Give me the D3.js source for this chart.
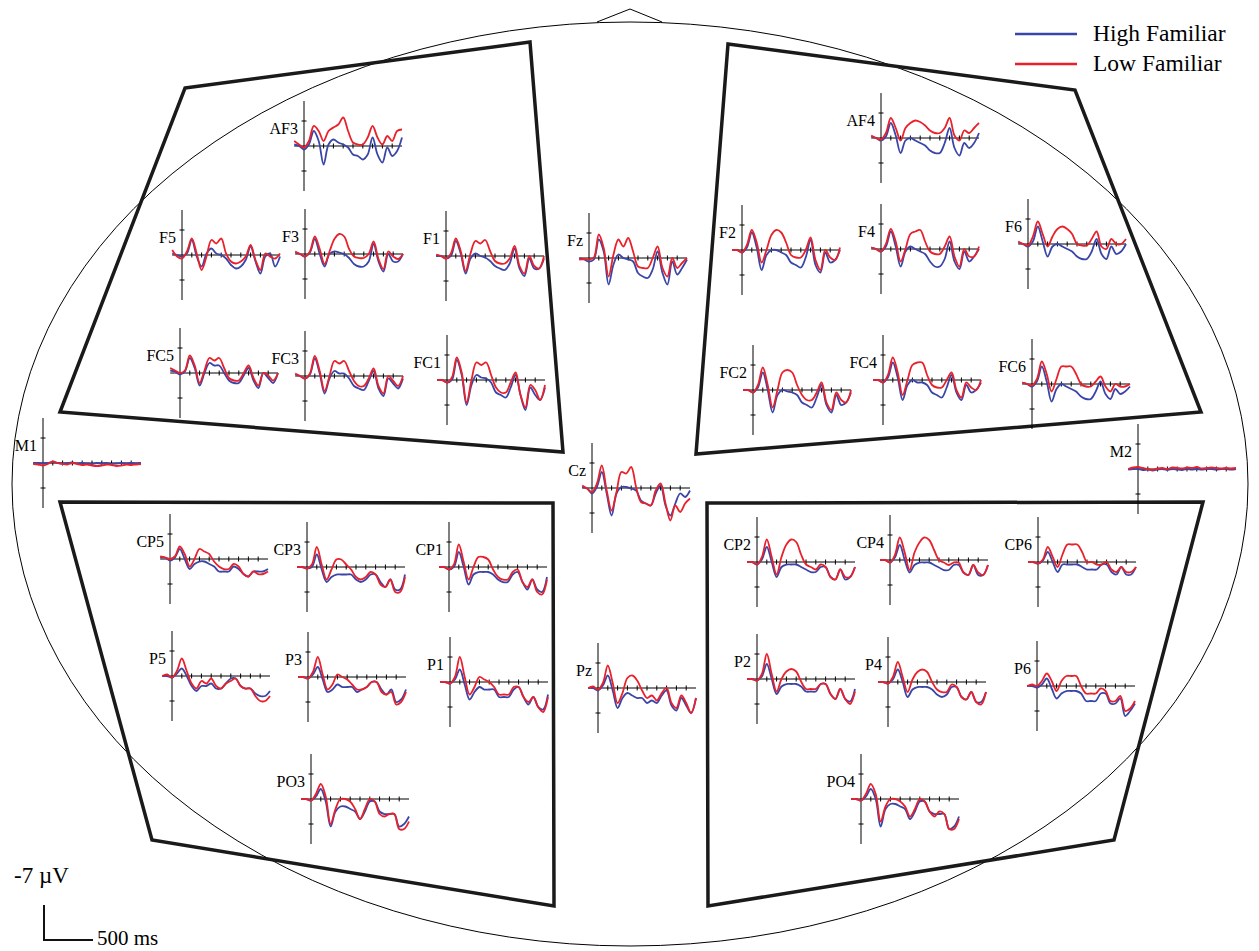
<!DOCTYPE html>
<html><head><meta charset="utf-8">
<script src="https://cdn.jsdelivr.net/npm/d3@7"></script>
<style>body{margin:0;background:#fff}svg{display:block}</style>
</head><body><svg id="c" width="1259" height="951"></svg>
<script>
// time points (ms)
const times = [-100,-50,0,50,100,150,200,250,300,350,400,450,500,550,600,650,700,750,800,850,900,950,1000];
const timeTicks = [100,200,300,400,500,600,700,800,900];
const ampTicks = [-5,5];
const conditions = ["High Familiar","Low Familiar"];

// amplitudes in µV (negative plotted up)
const AF3_H=[-0.3,0,0.7,-0.3,-3,-1,3.7,-0.3,-1.3,-0.7,-0.3,0.3,1.7,2,2.7,1.7,-1.7,1.7,3.3,0.3,2,1,-1.7];
const AF3_L=[-1,-0.3,0.3,-1,-4,-3,-1,-3,-3.7,-4.3,-5.7,-3,-0.7,-0.3,-0.3,-1.7,-4,-1.7,-0.3,-2,-1,-3,-3.3];
const F5_H=[-0.3,0,0.3,-0.3,-3,0.3,2.3,-0.3,-1.3,-0.3,0,0.7,2,2.7,2.3,1,-1.7,1.3,3.7,0.3,-0.3,2.3,0.3];
const F5_L=[-1,0.3,0.7,-0.7,-3.3,-0.3,3,0.3,-3,-2.3,-3.3,-0.3,1.3,1.7,1.3,0.3,-2,1,3,-0.3,0.3,0.7,-0.3];
const F3_H=[-0.3,0,0.5,-0.3,-3,0,2.5,0,-0.5,-0.3,0,0.8,2,2.5,2.5,1.5,-2,1.5,3.5,0,1.5,1.5,0];
const F3_L=[-0.5,0,0.5,-0.5,-3.5,-1,2,-0.5,-3,-4,-3.5,-1,0.5,0.8,0.8,0,-2.5,1,3,-0.5,0.5,1,0];
const F1_H=[0,0,0.5,0,-3,-0.5,3.5,0.5,-0.5,0,0.3,1,2,2.5,2.8,1.5,-1.5,2.5,4,0.5,2.5,2.5,0.5];
const F1_L=[-0.3,0,0.5,-0.5,-3.5,-1,3,-0.5,-3,-2.5,-3.2,-1,1,1.5,1.5,0.5,-2,2,3.5,0,2,2.5,0];
const FC5_H=[-0.5,-0.3,0.3,-0.3,-3,-1,2.5,0,-2,-1.5,-1.5,0,1.5,2,2,0.5,-1,1.5,3,0,1,2,0];
const FC5_L=[-1,-0.5,0,-0.5,-3.5,-1.5,2,-0.5,-3,-2.5,-3,-1,1,1.5,1.5,0,-1.5,1,2.5,0,0.5,1.5,0];
const FC3_H=[-0.3,0,0.5,-0.3,-3.5,-0.5,3.5,0.5,-1,-0.5,-0.5,0.5,2,2.5,2.8,1,-1,2.5,4,0.5,1.5,2.5,0.5];
const FC3_L=[-0.5,0,0.5,-0.5,-4,-1,3,0,-3,-2.5,-3,-1,1,2,2,0.5,-1.5,2,3.5,0,1,2,0];
const FC1_H=[0,0,0.5,0,-4,-1,5,1,-1,-0.5,-0.3,0.5,2.5,3,3.5,1.5,-1,3,6,1.5,3,4,1.5];
const FC1_L=[0,0,0.5,-0.5,-4.5,-1.5,4.5,0,-3.5,-3,-3.5,-1,1.5,2.5,2.5,0.5,-1.5,3,5.5,1,2,4,1];
const Fz_H=[0.1,0.3,0.7,0.3,-3.7,-1.3,5.3,1.3,-0.7,0,0.3,0.7,3,3.7,4,2.3,-1.3,3,5.3,0.7,3.3,2,0.3];
const Fz_L=[0.3,0.2,0.3,-0.1,-4.7,-2,3.7,-0.7,-3.7,-2.3,-4,-1.3,1.7,2,2,0,-2.3,2,3.7,0,2,1,0];
const Cz_H=[-0.2,0.1,1.1,-0.2,-3.2,1.1,5.5,1.1,-0.2,-0.2,0.1,0.5,2.5,3.1,3.5,1.1,-0.5,3.5,5.5,3.1,1.1,1.8,0.5];
const Cz_L=[-0.5,0.1,0.8,-0.9,-4.5,0.5,4.5,0.8,-3.2,-2.9,-4.2,-0.2,2.8,3.1,3.5,0.5,-0.9,3.1,6.5,3.5,4.8,3.1,2.1];
const Pz_H=[0,0,0.5,-0.5,-2.5,0.5,4,2,1,1.5,2,2,3,2.5,3,1.5,0.5,3.5,4.5,2,3.5,5,2];
const Pz_L=[0,-0.3,0.3,-1,-4.5,-1,3,1,-2,-2.5,-1.5,0.5,2,1.5,2.5,1,0,3,4,1.5,3,5,2];
const AF4_H=[-0.3,0,0.5,-0.3,-3,-0.5,3,0.5,0,0.5,1,1.5,2.5,3,3,1,-2,2,3.5,1,2,1,-1];
const AF4_L=[-0.5,0,0.3,-1,-4,-2,0.5,-2,-3,-3.5,-3.2,-2.5,-1.5,-1,-1,-2,-4,-0.5,0.5,-1.5,-1,-2,-3];
const F2_H=[0,0,0.5,-0.5,-3.5,-0.5,4,1,0,0,0.5,1,2.5,3,3.5,1.5,-2,3,4.5,0.5,2.5,2,0];
const F2_L=[0,0,0.5,-1,-4,-1.5,2.5,0,-3,-4,-3.5,-1.5,1,1.5,1.5,0,-2.5,2,4,0,1.5,2,-0.5];
const F4_H=[-0.3,0,0.5,-0.5,-3.5,-0.5,3.5,0.5,-0.5,0,0.5,1,2.5,3.5,3.5,2,-1.5,2.5,4,0.5,2.5,1.5,0];
const F4_L=[-0.3,0,0.5,-1,-4,-1.5,2.5,0,-3,-3.5,-3.8,-1.5,0.5,1,1,-0.5,-2.5,1.5,3.5,0,1.5,1.5,-0.5];
const F6_H=[-0.3,0,0.5,-0.5,-3.5,-0.5,2.5,0.5,0,0.5,1,1.5,2.5,3,3,1.5,-1,2,3,0.5,2,1.5,0];
const F6_L=[-0.5,0,0.3,-1.5,-4.5,-2,0.5,-1.5,-3,-3.5,-3,-2,0,0.3,0.3,-1,-2.5,0.5,1,-1,0,0,-1];
const FC2_H=[0,0,0.5,-0.5,-3.5,0,4.5,1,0,0.3,0.5,1,2.5,3,3.5,1.5,-1,3,4.5,1,3,2.5,0.5];
const FC2_L=[0,0,0.5,-1,-4.5,-1,3.5,0,-3.5,-4,-3.5,-1,1,2,2,0.5,-1.5,2.5,4,0.5,2,2.5,0];
const FC4_H=[0,0,0.5,-0.5,-3.5,-0.5,4,1,0,0.5,0.5,1,2.5,3,3.5,1.5,-1,2.5,4,1,2.5,2,0.5];
const FC4_L=[0,0,0.5,-1,-4.5,-1.5,3,0,-3,-3.5,-3.5,-1,1,1.5,1.5,0,-1.5,2,3.5,0.5,1.5,2,0];
const FC6_H=[-0.3,0,0.5,-0.5,-3.5,-0.5,3.5,1,0,0.5,1,1.5,2.5,3,3,1.5,-0.5,2,3,1,2,1.5,0.5];
const FC6_L=[-0.3,0,0.3,-1,-4.5,-2,1.5,-1,-3.5,-3.5,-3.5,-2,0,0.5,0.5,-0.5,-1.5,0.5,1.5,0,0.5,0.5,0];
const M1_H=[0,0,0.1,0,-0.2,0,0.1,0,-0.1,0.1,0,0.1,0.2,0,0.1,0,0.2,0.1,0,0.1,0,0.1,0];
const M1_L=[0.2,0.3,0.5,0.2,-0.3,0,0.2,0.3,0,0.2,0.4,0.3,0.5,0.6,0.5,0.3,0.4,0.6,0.5,0.3,0.4,0.3,0.2];
const M2_H=[0.1,0,0,0.2,0.1,0.3,0.1,0,0.2,0,0.1,0.2,0,0.1,0,0.1,0,0,0.1,0,0,0.1,0];
const M2_L=[0,-0.3,-0.4,-0.2,0,0.2,-0.1,-0.2,0,-0.3,-0.2,-0.1,-0.3,-0.2,-0.4,-0.1,-0.2,-0.3,-0.2,-0.1,-0.2,-0.1,-0.2];
const CP5_H=[-0.3,-0.3,0.3,-0.3,-2,0,2,1,0.5,0.5,1,1.5,2.5,2.5,2.5,1.5,2,3,3.5,2.5,2.5,2.5,2];
const CP5_L=[-0.5,-0.3,0,-0.5,-2.5,-1,1.5,0,-2,-1.5,-1,0.5,1.5,2,2,1,1.5,3,3.5,2.5,3,3,2.5];
const CP3_H=[0,0,0.3,0,-2.5,0.5,3,2,1.5,1.5,1.5,1.5,2.5,3,2.5,1.5,1.5,3,4,2.5,4.5,4.5,1.5];
const CP3_L=[0,0,0.3,-0.5,-4,-0.5,2.5,0.5,-1.5,-1.5,-0.5,0.5,2,2.5,2,1,1.5,3.5,4,2.5,5,5,2];
const CP1_H=[0,0,0.5,0,-3,0,3.5,1.5,1,1,1,1.5,2.5,3,3,1.5,1,3,4.5,2.5,4.5,5,2];
const CP1_L=[0,0,0.5,-0.5,-4.5,-1,2.5,0,-2,-2,-1.5,0.5,2,2.5,2.5,1,0.5,3,4,2.5,5,5.5,2.5];
const P5_H=[0,0,0.3,-0.5,-1.5,0,2,3,2,2,1.5,2.5,2.5,1.5,0.5,0.5,2,2.5,2.5,3.5,4,4,3];
const P5_L=[0,-0.3,0.3,-1,-3.5,-1,1.5,2.5,1,1.5,0.5,2,2.5,1.5,1,0.5,2,2.5,2.5,4,5,5,4];
const P3_H=[0,0,0.3,-0.5,-2,0.5,3,2.5,1.5,2,2,2,3,2.5,2,1,1,2.5,3.5,2.5,5,4.5,2.5];
const P3_L=[0,0,0.3,-1,-4,-0.5,2.5,1.5,-0.5,0,0.5,1.5,2.5,2.5,2,1,1,3,3.5,3,5.5,5,3];
const P1_H=[0,0,0.3,-0.5,-2.5,0.5,3.5,2,1,1.5,1.5,1.5,3,3,3,1.5,1,3,4.5,3,5,5.5,2.5];
const P1_L=[0,0,0.3,-1,-5,-1,2.5,1,-1,-0.5,0,1,2.5,2.5,2.5,1,1,3,4,3,5,6,3];
const PO3_H=[0,0,0.3,-0.5,-2,0.5,5.5,2.5,1.5,1.5,2,2.5,4,2.5,0.5,0.5,2.5,3,3,3,5.5,5,3.5];
const PO3_L=[0,0,0.3,-1,-3,-0.5,5,2,0,0,0.5,2,4,2,0,0.5,3,3.5,3,3,6,6,4.5];
const CP2_H=[0,0,0.5,-0.5,-3,0,3,1,0.5,0.5,0.5,1,1.5,2,2,1,1,3,3.5,1.5,3.5,3,1];
const CP2_L=[0,0,0.5,-1,-4.5,-1,2.5,-1,-3.5,-4.5,-4,-1.5,0.5,1,1.5,0.5,1,3,3.5,1.5,3,3,1];
const CP4_H=[0,0,0.5,-0.5,-3,0,2.5,1,0.5,0.5,0.5,1,1.5,2,2,1,1,2.5,3,1,3,3,1];
const CP4_L=[0,0,0.5,-1,-4.5,-1.5,2,-1.5,-3.5,-4.5,-4,-2,0,0.5,1,0.5,0.5,2.5,3,1,2.5,3,1];
const CP6_H=[0,0,0.3,-0.3,-2,0,2,0.5,0.5,0.5,0.5,1,1.5,1.5,1.5,0.5,0.5,2,2.5,1,2.5,2.5,1];
const CP6_L=[0,0,0.3,-0.5,-3,-1,1,-1.5,-3.5,-3.5,-3.5,-2,0,0,0.5,0.5,0,1.5,2,1,2,2,1];
const P2_H=[0,0,0.3,-0.5,-3,0,3,1.5,1,1,1,1.5,2.5,2.5,2.5,1,1,3,4,2,4,4.5,2];
const P2_L=[0,0,0.3,-1,-5,-1,2.5,0,-1.5,-2,-1.5,0.5,2,2,2,1,1,3,4,2,4,5,2.5];
const P4_H=[0,0,0.3,-0.5,-2.5,0,3,1.5,1,1,1,1.5,2.5,3,2.5,1,1,3,3.5,2,4,4,2];
const P4_L=[0,0,0.3,-1,-4,-1,2,-0.5,-2,-2.5,-2,0,1.5,2,2,0.5,1,3,3.5,2,4,4.5,2];
const P6_H=[0,0,0.3,-0.3,-1.5,0.5,2.5,1.5,1,1,1,1.5,3,3,3,1.5,1.5,3.5,3.5,2.5,6,5,3.5];
const P6_L=[0,-0.3,0,-1,-2.5,-1,1,-1,-2,-2,-2,0,1.5,1.5,1.5,0.5,1,3,3,2,5,4.5,3];
const PO4_H=[0,0,0.3,-0.5,-2,0,5.5,2,1,1,1.5,2,4,2.5,0.5,0.5,2.5,3,3,3,6,5.5,3.5];
const PO4_L=[0,0,0.3,-1,-3,-1,4.5,1.5,0,0,0.5,1.5,3.5,2,0,0.5,2.5,3.5,2.5,3,6,6,4];

// electrode table built from the arrays above
const electrodes = [
  ["AF3",AF3_H,AF3_L],["F5",F5_H,F5_L],["F3",F3_H,F3_L],["F1",F1_H,F1_L],
  ["FC5",FC5_H,FC5_L],["FC3",FC3_H,FC3_L],["FC1",FC1_H,FC1_L],
  ["Fz",Fz_H,Fz_L],["Cz",Cz_H,Cz_L],["Pz",Pz_H,Pz_L],
  ["AF4",AF4_H,AF4_L],["F2",F2_H,F2_L],["F4",F4_H,F4_L],["F6",F6_H,F6_L],
  ["FC2",FC2_H,FC2_L],["FC4",FC4_H,FC4_L],["FC6",FC6_H,FC6_L],
  ["M1",M1_H,M1_L],["M2",M2_H,M2_L],
  ["CP5",CP5_H,CP5_L],["CP3",CP3_H,CP3_L],["CP1",CP1_H,CP1_L],
  ["P5",P5_H,P5_L],["P3",P3_H,P3_L],["P1",P1_H,P1_L],["PO3",PO3_H,PO3_L],
  ["CP2",CP2_H,CP2_L],["CP4",CP4_H,CP4_L],["CP6",CP6_H,CP6_L],
  ["P2",P2_H,P2_L],["P4",P4_H,P4_L],["P6",P6_H,P6_L],["PO4",PO4_H,PO4_L]
];

// ---- layout (positions of each electrode's origin, in px) ----
const layout = {
  AF3:[304,146],F5:[182,255],F3:[305,254],F1:[446,256],FC5:[180,373],FC3:[305,376],FC1:[447,380],
  Fz:[589,258],Cz:[592,488],Pz:[598,688],
  AF4:[881,138],F2:[742,250],F4:[881,249],F6:[1028,244],FC2:[753,390],FC4:[883,380],FC6:[1032,384],
  M1:[43,463],M2:[1138,469],
  CP5:[170,559],CP3:[307,567],CP1:[449,567],P5:[172,676],P3:[308,677],P1:[450,682],PO3:[311,799],
  CP2:[757,562],CP4:[890,560],CP6:[1038,562],P2:[757,679],P4:[888,682],P6:[1037,686],PO4:[861,799]
};
const regions = [
  [[185,88],[530,42],[563,452],[60,412]],
  [[728,44],[1075,90],[1201,412],[696,454]],
  [[60,502],[553,503],[554,906],[152,840]],
  [[707,503],[1203,502],[1114,840],[708,906]]
];
const colors = ["#3a45a8","#e8212b"];
const pxPerMs = 0.098, pxPerUV = 5;
const font = "'Liberation Serif','Times New Roman',serif";

const svg = d3.select("#c");

// head outline
svg.append("ellipse").attr("cx",630).attr("cy",484).attr("rx",618).attr("ry",462)
  .attr("fill","none").attr("stroke","#000").attr("stroke-width",1);
svg.append("path").attr("d","M597,22 L630,9 L662,22").attr("fill","none").attr("stroke","#000").attr("stroke-width",1);

// region outlines
svg.selectAll("path.region").data(regions).join("path").attr("class","region")
  .attr("d",d=>d3.line()(d)+"Z").attr("fill","none").attr("stroke","#1a1a1a")
  .attr("stroke-width",3.5).attr("stroke-linejoin","miter");

// electrodes
electrodes.forEach(([name,hi,lo])=>{
  const [x0,y0] = layout[name];
  const x = d3.scaleLinear().domain([0,1000]).range([x0,x0+1000*pxPerMs]);
  const y = d3.scaleLinear().domain([0,9]).range([y0,y0+9*pxPerUV]);
  const g = svg.append("g");
  // vertical axis
  g.append("line").attr("x1",x0).attr("x2",x0).attr("y1",y(-9)).attr("y2",y(9)).attr("stroke","#000").attr("stroke-width",1);
  g.selectAll("line.yt").data(ampTicks).join("line").attr("class","yt")
    .attr("x1",x0-2.5).attr("x2",x0+2.5).attr("y1",d=>y(d)).attr("y2",d=>y(d)).attr("stroke","#000");
  // horizontal axis
  g.append("line").attr("x1",x(-100)).attr("x2",x(1000)).attr("y1",y0).attr("y2",y0).attr("stroke","#000").attr("stroke-width",1);
  g.selectAll("line.xt").data(timeTicks).join("line").attr("class","xt")
    .attr("x1",d=>x(d)).attr("x2",d=>x(d)).attr("y1",y0-2.5).attr("y2",y0+2.5).attr("stroke","#000");
  // waveforms
  const line = d3.line().x((d,i)=>x(times[i])).y(d=>y(d)).curve(d3.curveCatmullRom.alpha(0.5));
  [hi,lo].forEach((vals,k)=>{
    g.append("path").attr("d",line(vals)).attr("fill","none").attr("stroke",colors[k])
      .attr("stroke-width",1.8).attr("stroke-linejoin","round");
  });
  g.append("text").attr("x",x0-6).attr("y",y0-12).attr("text-anchor","end")
    .attr("font-family",font).attr("font-size",16).attr("fill","#000").text(name);
});

// legend
const lg = svg.append("g");
conditions.forEach((c,i)=>{
  const ly = 34 + i*30;
  lg.append("line").attr("x1",1015).attr("x2",1077).attr("y1",ly).attr("y2",ly)
    .attr("stroke",colors[i]).attr("stroke-width",2.5);
  lg.append("text").attr("x",1093).attr("y",ly+7).attr("font-family",font).attr("font-size",23.5)
    .attr("fill","#000").text(c);
});

// scale bar
const sx = d3.scaleLinear().domain([0,500]).range([44,44+500*pxPerMs]);
const sy = d3.scaleLinear().domain([-7,0]).range([940-7*pxPerUV,940]);
svg.append("path").attr("d",`M${sx(0)},${sy(-7)} L${sx(0)},${sy(0)} L${sx(500)},${sy(0)}`)
  .attr("fill","none").attr("stroke","#111").attr("stroke-width",2);
svg.append("text").attr("x",14).attr("y",883).attr("font-family",font).attr("font-size",23).attr("fill","#000").text("-7 µV");
svg.append("text").attr("x",97).attr("y",945).attr("font-family",font).attr("font-size",21).attr("fill","#000").text("500 ms");
</script></body></html>
